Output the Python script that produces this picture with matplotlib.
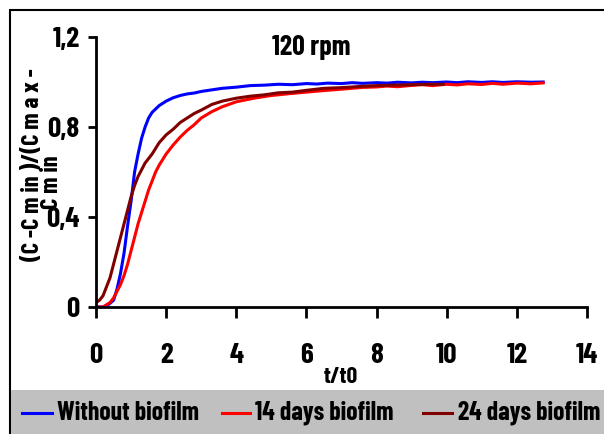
import matplotlib
matplotlib.use('Agg')
import matplotlib.pyplot as plt
from matplotlib.patches import Rectangle
from matplotlib.lines import Line2D

plt.rcParams['font.family']=['Liberation Sans Narrow','Barlow Condensed','DejaVu Sans']
plt.rcParams['font.weight']='bold'

# tracer response curves, normalised concentration vs t/t0
t_none=[0,0.2,0.35,0.5,0.6,0.7,0.8,0.9,1.0,1.1,1.2,1.3,1.4,1.5,1.6,1.7,1.8,2.0,2.2,2.4,2.6,2.8,3.0,3.3,3.6,4.0,4.4,4.8,5.2,5.6,6.0,6.3,6.6,7.0,7.3,7.6,8.0,8.3,8.6,9.0,9.3,9.6,10.0,10.3,10.6,11.0,11.3,11.6,12.0,12.4,12.75]
c_none=[0,0.0,0.01,0.03,0.08,0.15,0.24,0.36,0.47,0.60,0.68,0.75,0.80,0.84,0.865,0.88,0.895,0.915,0.93,0.94,0.947,0.951,0.958,0.965,0.972,0.977,0.984,0.986,0.99,0.988,0.993,0.991,0.995,0.993,0.997,0.994,0.997,0.995,0.999,0.996,0.999,0.997,1.0,0.997,1.001,0.998,1.001,0.998,1.001,0.999,1.0]

t_14=[0,0.2,0.3,0.4,0.5,0.6,0.7,0.8,0.9,1.0,1.1,1.2,1.3,1.4,1.5,1.6,1.7,1.8,2.0,2.2,2.4,2.6,2.8,3.0,3.3,3.6,4.0,4.5,5.0,5.5,6.0,6.5,7.0,7.3,7.6,8.0,8.3,8.6,9.0,9.3,9.6,10.0,10.3,10.6,11.0,11.3,11.6,12.0,12.4,12.75]
c_14=[0.0,0.0,0.01,0.02,0.04,0.07,0.1,0.14,0.19,0.25,0.31,0.37,0.42,0.47,0.52,0.56,0.6,0.63,0.68,0.72,0.755,0.785,0.81,0.84,0.868,0.89,0.912,0.928,0.94,0.948,0.955,0.962,0.968,0.972,0.976,0.978,0.982,0.979,0.985,0.988,0.984,0.99,0.987,0.992,0.989,0.994,0.99,0.995,0.992,0.996]

t_24=[0,0.1,0.2,0.3,0.4,0.5,0.6,0.7,0.8,0.9,1.0,1.1,1.2,1.3,1.4,1.5,1.6,1.8,2.0,2.2,2.4,2.6,2.8,3.0,3.3,3.6,4.0,4.4,4.8,5.2,5.6,6.0,6.5,7.0,7.5,8.0,8.5,9.0,9.5,9.9]
c_24=[0.02,0.03,0.05,0.09,0.13,0.19,0.25,0.31,0.37,0.43,0.49,0.54,0.58,0.61,0.64,0.66,0.68,0.73,0.765,0.79,0.82,0.84,0.86,0.875,0.9,0.915,0.928,0.937,0.943,0.952,0.955,0.963,0.972,0.975,0.98,0.984,0.986,0.988,0.99,0.99]

series=[('Without biofilm',t_none,c_none,'#0000ff'),
	('14 days biofilm',t_14,c_14,'#ff0000'),
	('24 days biofilm',t_24,c_24,'#800000')]

xticks=[0,2,4,6,8,10,12,14]
yticks=[0,0.4,0.8,1.2]
ylabels=['0','0,4','0,8','1,2']

fig=plt.figure(figsize=(6.04,4.34),dpi=100)
W,H=604.,434.

# outer frame and grey legend band
fig.patches.append(Rectangle((10/W,0),1.2,1-10/H,transform=fig.transFigure,fill=False,lw=1.5,ec='black',zorder=0))
fig.patches.append(Rectangle((10/W+0.002,0),1,44/H,transform=fig.transFigure,fc='#c0c0c0',ec='none',zorder=0))

ax=fig.add_axes([96/W,(H-307)/H,(587-96)/W,270/H])
for name,t,c,col in series:
	ax.plot(t,c,color=col,lw=2.2,label=name)

ax.set_xlim(0,14)
ax.set_ylim(0,1.2)
ax.set_xticks(xticks)
ax.set_yticks(yticks)
ax.set_yticklabels(ylabels)
for s in ['top','right']:
	ax.spines[s].set_visible(False)
for s in ['left','bottom']:
	ax.spines[s].set_linewidth(2)
ax.tick_params(axis='x',direction='out',length=8,width=2,pad=18,labelsize=21)
ax.tick_params(axis='y',direction='out',length=6,width=2,pad=6,labelsize=21)
ax.patch.set_alpha(0)

ax.text(6.13,1.155,'120 rpm',ha='center',va='center',fontsize=20)
fig.text(341/W,1-377/H,'t/t0',ha='center',va='center',fontsize=17)
fig.text(33/W,1-165/H,'(C -C m in )/(C m a x -',rotation=90,ha='center',va='center',fontsize=17.5)
fig.text(52/W,1-182/H,'C m in',rotation=90,ha='center',va='center',fontsize=17.5)

# legend row
legx=[(22,52,57),(222,250,255),(423,452,458)]
ly=1-413/H
for (x0,x1,xt),(name,t,c,col) in zip(legx,series):
	fig.lines.append(Line2D([x0/W,x1/W],[ly,ly],transform=fig.transFigure,color=col,lw=2.2))
	fig.text(xt/W,ly,name,ha='left',va='center',fontsize=18.5)

fig.savefig('out.png',dpi=100)
